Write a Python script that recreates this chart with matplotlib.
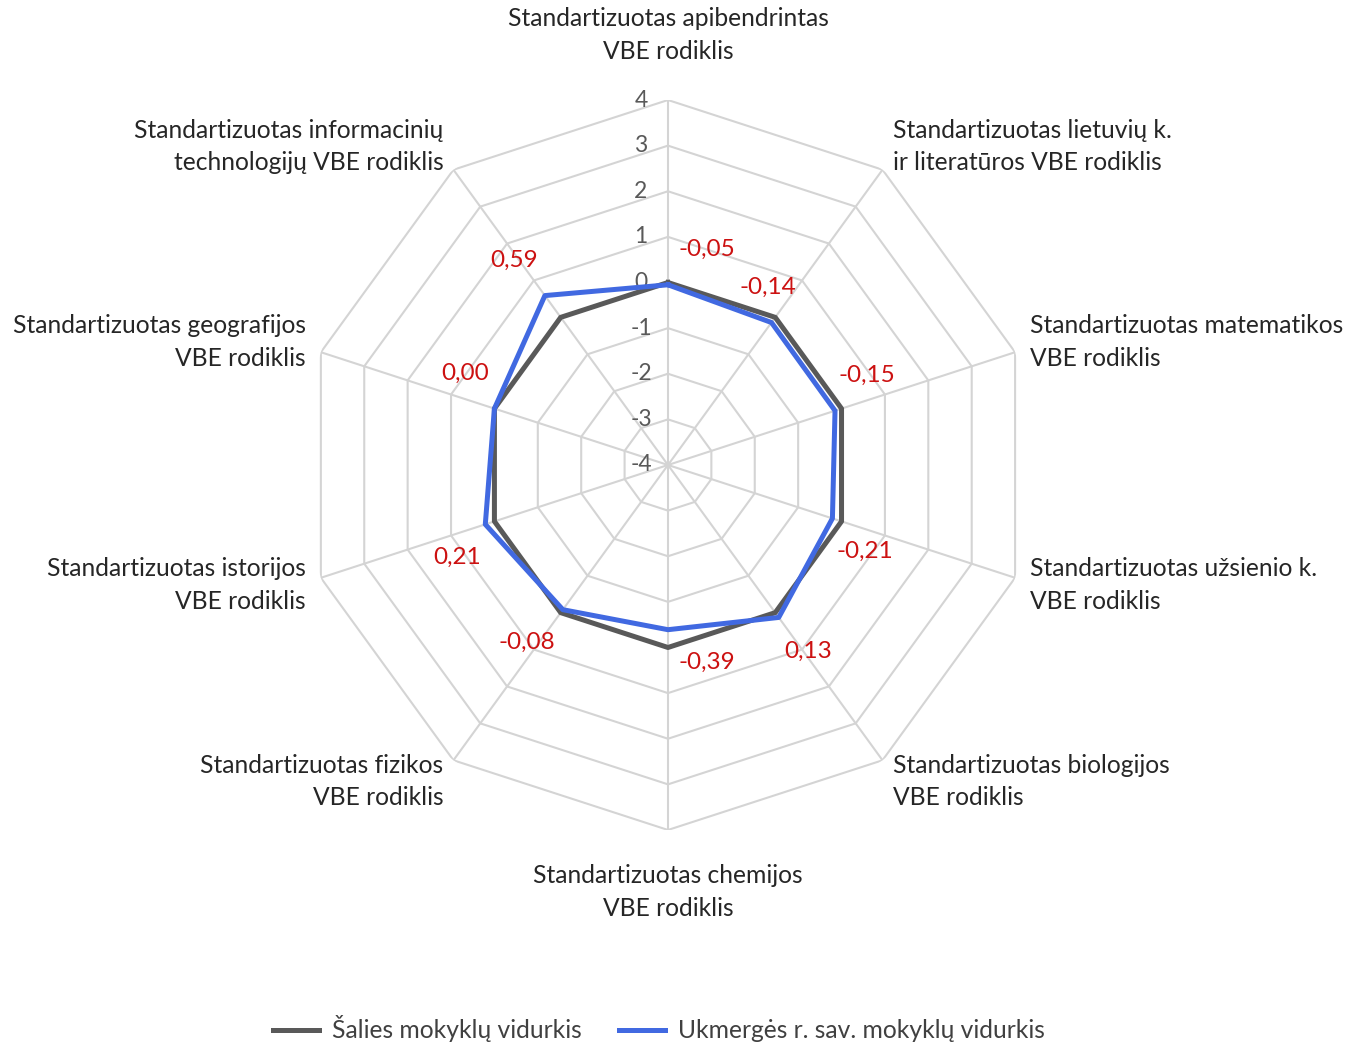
import numpy as np
import matplotlib
matplotlib.use("Agg")
import matplotlib.pyplot as plt
from matplotlib.lines import Line2D

plt.rcParams['font.family'] = ['Lato', 'DejaVu Sans']

# Data
categories = [
    "Standartizuotas apibendrintas\nVBE rodiklis",
    "Standartizuotas lietuvių k.\nir literatūros VBE rodiklis",
    "Standartizuotas matematikos\nVBE rodiklis",
    "Standartizuotas užsienio k.\nVBE rodiklis",
    "Standartizuotas biologijos\nVBE rodiklis",
    "Standartizuotas chemijos\nVBE rodiklis",
    "Standartizuotas fizikos\nVBE rodiklis",
    "Standartizuotas istorijos\nVBE rodiklis",
    "Standartizuotas geografijos\nVBE rodiklis",
    "Standartizuotas informacinių\ntechnologijų VBE rodiklis",
]
salies = [0, 0, 0, 0, 0, 0, 0, 0, 0, 0]
ukmerges = [-0.05, -0.14, -0.15, -0.21, 0.13, -0.39, -0.08, 0.21, 0.00, 0.59]
r_ticks = [-4, -3, -2, -1, 0, 1, 2, 3, 4]

# layout: label offsets in pixels (dx, dy)
data_label_off = [(39, 35), (-4, 35), (32, 35), (32, -33), (29, -34),
                  (39, -33), (-36, -33), (-28, -33), (-29, 35), (-31, 35)]
cat_label_pos = [(0, 65, 'center'), (10, 23, 'left'), (15, 10, 'left'),
                 (15, -7, 'left'), (10, -21, 'left'), (0, -62, 'center'),
                 (-10, -21, 'right'), (-15, -7, 'right'), (-15, 10, 'right'),
                 (-10, 23, 'right')]

n = len(categories)
angles = np.arange(n) * 2 * np.pi / n
closed = np.append(angles, angles[0])

fig = plt.figure(figsize=(13.53, 10.44), dpi=100)
ax = fig.add_axes([0.2239, 0.2050, 0.5396, 0.6992], projection='polar')
ax.set_theta_zero_location('N')
ax.set_theta_direction(-1)
ax.set_ylim(-4, 4)
ax.set_xticks([])
ax.set_yticks([])
ax.grid(False)
ax.spines['polar'].set_visible(False)
ax.patch.set_visible(False)

grid_c = '#d4d4d4'
for r in r_ticks[1:]:
    ax.plot(closed, [r] * (n + 1), color=grid_c, lw=1.5, zorder=1)
for a in angles:
    ax.plot([a, a], [-4, 4], color=grid_c, lw=1.5, zorder=1)

for r in r_ticks:
    ax.annotate(str(r), xy=(0, r), xytext=(-27, 0), textcoords='offset pixels',
                ha='center', va='center', fontsize=16.5, color='#595959', zorder=2)

ax.plot(closed, np.append(salies, salies[0]), color='#595959', lw=3.6, zorder=3)
ax.plot(closed, np.append(ukmerges, ukmerges[0]), color='#4169E1', lw=3.6, zorder=4)

for a, v, (dx, dy) in zip(angles, ukmerges, data_label_off):
    ax.annotate(f"{v:.2f}".replace('.', ','), xy=(a, v), xytext=(dx, dy),
                textcoords='offset pixels', ha='center', va='center',
                fontsize=17.5, color='#cc1111', zorder=5)

for a, lab, (dx, dy, ha) in zip(angles, categories, cat_label_pos):
    ax.annotate(lab, xy=(a, 4), xytext=(dx, dy), textcoords='offset pixels',
                ha=ha, va='center', fontsize=17.7, color='#262626',
                linespacing=1.5, multialignment=ha)

handles = [Line2D([], [], color='#595959', lw=3.6),
           Line2D([], [], color='#4169E1', lw=3.6)]
fig.legend(handles, ["Šalies mokyklų vidurkis", "Ukmergės r. sav. mokyklų vidurkis"],
           loc='center', bbox_to_anchor=(0.487, 1 - 1029 / 1044), ncol=2,
           frameon=False, fontsize=17.7, handlelength=1.87, handletextpad=0.53,
           columnspacing=1.5, labelcolor='#404040')

fig.savefig('out.png', dpi=100, facecolor='white')
